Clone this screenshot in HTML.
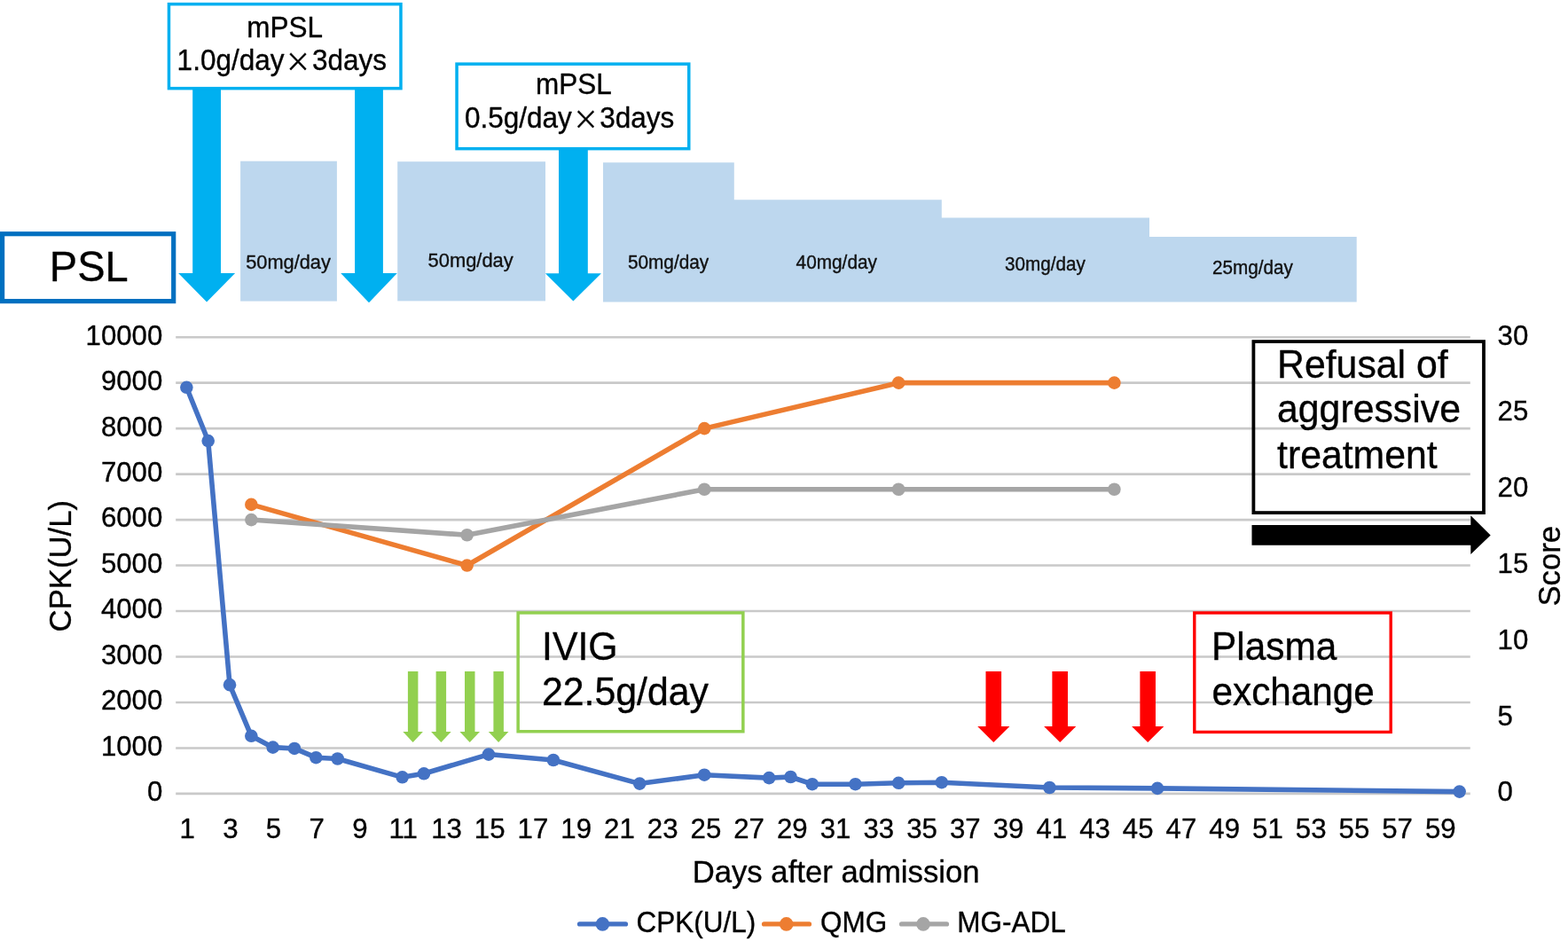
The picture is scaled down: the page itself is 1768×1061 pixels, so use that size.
<!DOCTYPE html>
<html><head><meta charset="utf-8"><title>CPK, QMG and MG-ADL after admission</title>
<style>
html,body{margin:0;padding:0;background:#fff;}
body{width:1768px;height:1061px;overflow:hidden;}
svg{display:block;}
text{font-family:"Liberation Sans", Arial, sans-serif;fill:#000;stroke:#000;stroke-width:0.35px;stroke-linejoin:round;}
</style></head><body>
<svg width="1768" height="1061" viewBox="0 0 1768 1061">
<rect x="0" y="0" width="1768" height="1061" fill="#fff"/>
<g stroke="#C9C9C9" stroke-width="2.6">
<line x1="198.2" y1="380.20" x2="1657.8" y2="380.20"/>
<line x1="198.2" y1="431.67" x2="1657.8" y2="431.67"/>
<line x1="198.2" y1="483.14" x2="1657.8" y2="483.14"/>
<line x1="198.2" y1="534.61" x2="1657.8" y2="534.61"/>
<line x1="198.2" y1="586.08" x2="1657.8" y2="586.08"/>
<line x1="198.2" y1="637.55" x2="1657.8" y2="637.55"/>
<line x1="198.2" y1="689.02" x2="1657.8" y2="689.02"/>
<line x1="198.2" y1="740.49" x2="1657.8" y2="740.49"/>
<line x1="198.2" y1="791.96" x2="1657.8" y2="791.96"/>
<line x1="198.2" y1="843.43" x2="1657.8" y2="843.43"/>
<line x1="198.2" y1="894.90" x2="1657.8" y2="894.90"/>
</g>
<text font-size="31.2" text-anchor="end" transform="matrix(1 0 0 1.035 183.30 903.30)">0</text>
<text font-size="31.2" text-anchor="end" transform="matrix(1 0 0 1.035 183.30 851.83)">1000</text>
<text font-size="31.2" text-anchor="end" transform="matrix(1 0 0 1.035 183.30 800.36)">2000</text>
<text font-size="31.2" text-anchor="end" transform="matrix(1 0 0 1.035 183.30 748.89)">3000</text>
<text font-size="31.2" text-anchor="end" transform="matrix(1 0 0 1.035 183.30 697.42)">4000</text>
<text font-size="31.2" text-anchor="end" transform="matrix(1 0 0 1.035 183.30 645.95)">5000</text>
<text font-size="31.2" text-anchor="end" transform="matrix(1 0 0 1.035 183.30 594.48)">6000</text>
<text font-size="31.2" text-anchor="end" transform="matrix(1 0 0 1.035 183.30 543.01)">7000</text>
<text font-size="31.2" text-anchor="end" transform="matrix(1 0 0 1.035 183.30 491.54)">8000</text>
<text font-size="31.2" text-anchor="end" transform="matrix(1 0 0 1.035 183.30 440.07)">9000</text>
<text font-size="31.2" text-anchor="end" transform="matrix(1 0 0 1.035 183.30 388.60)">10000</text>
<text font-size="31.2" transform="matrix(1 0 0 1.035 1688.60 903.30)">0</text>
<text font-size="31.2" transform="matrix(1 0 0 1.035 1688.60 817.52)">5</text>
<text font-size="31.2" transform="matrix(1 0 0 1.035 1688.60 731.73)">10</text>
<text font-size="31.2" transform="matrix(1 0 0 1.035 1688.60 645.95)">15</text>
<text font-size="31.2" transform="matrix(1 0 0 1.035 1688.60 560.17)">20</text>
<text font-size="31.2" transform="matrix(1 0 0 1.035 1688.60 474.38)">25</text>
<text font-size="31.2" transform="matrix(1 0 0 1.035 1688.60 388.60)">30</text>
<text font-size="31.2" text-anchor="middle" transform="matrix(1 0 0 1.035 211.08 944.60)">1</text>
<text font-size="31.2" text-anchor="middle" transform="matrix(1 0 0 1.035 259.82 944.60)">3</text>
<text font-size="31.2" text-anchor="middle" transform="matrix(1 0 0 1.035 308.55 944.60)">5</text>
<text font-size="31.2" text-anchor="middle" transform="matrix(1 0 0 1.035 357.28 944.60)">7</text>
<text font-size="31.2" text-anchor="middle" transform="matrix(1 0 0 1.035 406.02 944.60)">9</text>
<text font-size="31.2" text-anchor="middle" transform="matrix(1 0 0 1.035 454.75 944.60)">11</text>
<text font-size="31.2" text-anchor="middle" transform="matrix(1 0 0 1.035 503.48 944.60)">13</text>
<text font-size="31.2" text-anchor="middle" transform="matrix(1 0 0 1.035 552.22 944.60)">15</text>
<text font-size="31.2" text-anchor="middle" transform="matrix(1 0 0 1.035 600.95 944.60)">17</text>
<text font-size="31.2" text-anchor="middle" transform="matrix(1 0 0 1.035 649.68 944.60)">19</text>
<text font-size="31.2" text-anchor="middle" transform="matrix(1 0 0 1.035 698.42 944.60)">21</text>
<text font-size="31.2" text-anchor="middle" transform="matrix(1 0 0 1.035 747.15 944.60)">23</text>
<text font-size="31.2" text-anchor="middle" transform="matrix(1 0 0 1.035 795.88 944.60)">25</text>
<text font-size="31.2" text-anchor="middle" transform="matrix(1 0 0 1.035 844.62 944.60)">27</text>
<text font-size="31.2" text-anchor="middle" transform="matrix(1 0 0 1.035 893.35 944.60)">29</text>
<text font-size="31.2" text-anchor="middle" transform="matrix(1 0 0 1.035 942.08 944.60)">31</text>
<text font-size="31.2" text-anchor="middle" transform="matrix(1 0 0 1.035 990.82 944.60)">33</text>
<text font-size="31.2" text-anchor="middle" transform="matrix(1 0 0 1.035 1039.55 944.60)">35</text>
<text font-size="31.2" text-anchor="middle" transform="matrix(1 0 0 1.035 1088.28 944.60)">37</text>
<text font-size="31.2" text-anchor="middle" transform="matrix(1 0 0 1.035 1137.02 944.60)">39</text>
<text font-size="31.2" text-anchor="middle" transform="matrix(1 0 0 1.035 1185.75 944.60)">41</text>
<text font-size="31.2" text-anchor="middle" transform="matrix(1 0 0 1.035 1234.48 944.60)">43</text>
<text font-size="31.2" text-anchor="middle" transform="matrix(1 0 0 1.035 1283.22 944.60)">45</text>
<text font-size="31.2" text-anchor="middle" transform="matrix(1 0 0 1.035 1331.95 944.60)">47</text>
<text font-size="31.2" text-anchor="middle" transform="matrix(1 0 0 1.035 1380.68 944.60)">49</text>
<text font-size="31.2" text-anchor="middle" transform="matrix(1 0 0 1.035 1429.42 944.60)">51</text>
<text font-size="31.2" text-anchor="middle" transform="matrix(1 0 0 1.035 1478.15 944.60)">53</text>
<text font-size="31.2" text-anchor="middle" transform="matrix(1 0 0 1.035 1526.88 944.60)">55</text>
<text font-size="31.2" text-anchor="middle" transform="matrix(1 0 0 1.035 1575.62 944.60)">57</text>
<text font-size="31.2" text-anchor="middle" transform="matrix(1 0 0 1.035 1624.35 944.60)">59</text>
<text font-size="34.7" text-anchor="middle" transform="matrix(1 0 0 1.035 942.60 994.80)">Days after admission</text>
<text font-size="34.7" text-anchor="middle" transform="translate(80.00 638.20) rotate(-90) scale(1 1.035)">CPK(U/L)</text>
<text font-size="34.7" text-anchor="middle" transform="translate(1759.40 638.20) rotate(-90) scale(1 1.035)">Score</text>
<polyline points="210.36,436.82 234.69,497.04 259.02,772.14 283.34,829.79 307.67,842.66 332.00,843.94 356.32,854.19 380.65,855.47 453.63,876.32 477.96,872.30 550.94,850.58 623.92,857.02 721.22,883.58 794.20,873.69 867.18,877.09 891.51,876.01 915.84,884.19 964.49,884.19 1013.14,882.80 1061.80,882.19 1183.43,888.00 1305.06,888.83 1645.64,892.58" fill="none" stroke="#4472C4" stroke-width="5.6" stroke-linejoin="round" stroke-linecap="round"/>
<g fill="#4472C4"><circle cx="210.36" cy="436.82" r="7.3"/><circle cx="234.69" cy="497.04" r="7.3"/><circle cx="259.02" cy="772.14" r="7.3"/><circle cx="283.34" cy="829.79" r="7.3"/><circle cx="307.67" cy="842.66" r="7.3"/><circle cx="332.00" cy="843.94" r="7.3"/><circle cx="356.32" cy="854.19" r="7.3"/><circle cx="380.65" cy="855.47" r="7.3"/><circle cx="453.63" cy="876.32" r="7.3"/><circle cx="477.96" cy="872.30" r="7.3"/><circle cx="550.94" cy="850.58" r="7.3"/><circle cx="623.92" cy="857.02" r="7.3"/><circle cx="721.22" cy="883.58" r="7.3"/><circle cx="794.20" cy="873.69" r="7.3"/><circle cx="867.18" cy="877.09" r="7.3"/><circle cx="891.51" cy="876.01" r="7.3"/><circle cx="915.84" cy="884.19" r="7.3"/><circle cx="964.49" cy="884.19" r="7.3"/><circle cx="1013.14" cy="882.80" r="7.3"/><circle cx="1061.80" cy="882.19" r="7.3"/><circle cx="1183.43" cy="888.00" r="7.3"/><circle cx="1305.06" cy="888.83" r="7.3"/><circle cx="1645.64" cy="892.58" r="7.3"/></g>
<polyline points="283.34,568.92 526.61,637.55 794.20,483.14 1013.14,431.67 1256.41,431.67" fill="none" stroke="#ED7D31" stroke-width="5.6" stroke-linejoin="round" stroke-linecap="round"/>
<g fill="#ED7D31"><circle cx="283.34" cy="568.92" r="7.3"/><circle cx="526.61" cy="637.55" r="7.3"/><circle cx="794.20" cy="483.14" r="7.3"/><circle cx="1013.14" cy="431.67" r="7.3"/><circle cx="1256.41" cy="431.67" r="7.3"/></g>
<polyline points="283.34,586.08 526.61,603.24 794.20,551.77 1013.14,551.77 1256.41,551.77" fill="none" stroke="#A5A5A5" stroke-width="5.6" stroke-linejoin="round" stroke-linecap="round"/>
<g fill="#A5A5A5"><circle cx="283.34" cy="586.08" r="7.3"/><circle cx="526.61" cy="603.24" r="7.3"/><circle cx="794.20" cy="551.77" r="7.3"/><circle cx="1013.14" cy="551.77" r="7.3"/><circle cx="1256.41" cy="551.77" r="7.3"/></g>
<line x1="653.5" y1="1041.9" x2="705.5" y2="1041.9" stroke="#4472C4" stroke-width="5.2" stroke-linecap="round"/>
<circle cx="679.4" cy="1041.9" r="7.8" fill="#4472C4"/>
<text font-size="31.5" transform="matrix(1 0 0 1.035 717.50 1050.50)">CPK(U/L)</text>
<line x1="861.5" y1="1041.9" x2="912.5" y2="1041.9" stroke="#ED7D31" stroke-width="5.2" stroke-linecap="round"/>
<circle cx="886.7" cy="1041.9" r="7.8" fill="#ED7D31"/>
<text font-size="31.5" transform="matrix(1 0 0 1.035 925.00 1050.50)">QMG</text>
<line x1="1016.5" y1="1041.9" x2="1067.5" y2="1041.9" stroke="#A5A5A5" stroke-width="5.2" stroke-linecap="round"/>
<circle cx="1041" cy="1041.9" r="7.8" fill="#A5A5A5"/>
<text font-size="31.5" transform="matrix(1 0 0 1.035 1079.30 1050.50)">MG-ADL</text>
<g fill="#BDD7EE">
<rect x="271.1" y="181.7" width="108.8" height="157.9"/>
<rect x="448.2" y="182.2" width="166.8" height="157.2"/>
<polygon points="680,183.3 827.8,183.3 827.8,225.3 1061.8,225.3 1061.8,245.5 1296,245.5 1296,267.1 1529.7,267.1 1529.7,340.6 680,340.6"/>
</g>
<text font-size="21.8" transform="matrix(1 0 0 1.035 277.20 302.90)" style="fill:#111;stroke:#111">50mg/day</text>
<text font-size="21.9" transform="matrix(1 0 0 1.035 482.60 300.60)" style="fill:#111;stroke:#111">50mg/day</text>
<text font-size="20.8" transform="matrix(1 0 0 1.035 707.90 302.90)" style="fill:#111;stroke:#111">50mg/day</text>
<text font-size="20.8" transform="matrix(1 0 0 1.035 897.60 302.90)" style="fill:#111;stroke:#111">40mg/day</text>
<text font-size="20.7" transform="matrix(1 0 0 1.035 1132.90 304.70)" style="fill:#111;stroke:#111">30mg/day</text>
<text font-size="20.7" transform="matrix(1 0 0 1.035 1366.90 308.70)" style="fill:#111;stroke:#111">25mg/day</text>
<polygon points="217.2,100.0 249.0,100.0 249.0,307.9 265.1,307.9 233.1,340.4 201.1,307.9 217.2,307.9" fill="#00B0F0"/>
<polygon points="400.1,100.0 431.9,100.0 431.9,308.0 447.8,308.0 416.0,341.2 384.2,308.0 400.1,308.0" fill="#00B0F0"/>
<polygon points="630.0,168.0 662.8,168.0 662.8,308.3 677.9,308.3 646.4,339.4 614.9,308.3 630.0,308.3" fill="#00B0F0"/>
<rect x="190.45" y="4.65" width="261.50" height="95.00" fill="#fff" stroke="#00B0F0" stroke-width="3.5"/>
<text font-size="31.5" text-anchor="middle" transform="matrix(1 0 0 1.035 321.20 41.90)">mPSL</text>
<text font-size="31.5" text-anchor="middle" transform="matrix(1 0 0 1.035 317.80 78.70)">1.0g/day<tspan style="font-family:'Noto Sans CJK JP', sans-serif;font-size:29px" dx="1.2" dy="1.1">×</tspan><tspan dx="1.3" dy="-1.1">3days</tspan></text>
<rect x="515.05" y="72.15" width="261.70" height="95.50" fill="#fff" stroke="#00B0F0" stroke-width="3.5"/>
<text font-size="31.5" text-anchor="middle" transform="matrix(1 0 0 1.035 646.80 106.30)">mPSL</text>
<text font-size="31.5" text-anchor="middle" transform="matrix(1 0 0 1.035 642.20 144.10)">0.5g/day<tspan style="font-family:'Noto Sans CJK JP', sans-serif;font-size:29px" dx="1.2" dy="1.1">×</tspan><tspan dx="1.3" dy="-1.1">3days</tspan></text>
<rect x="2.60" y="263.70" width="193.10" height="75.90" fill="#fff" stroke="#0070C0" stroke-width="5.2"/>
<text font-size="47" text-anchor="middle" transform="matrix(1 0 0 1.035 100.20 316.60)">PSL</text>
<rect x="584.15" y="690.95" width="253.70" height="133.80" fill="none" stroke="#92D050" stroke-width="3.5"/>
<text font-size="42.8" transform="matrix(1 0 0 1.035 611.00 744.10)">IVIG</text>
<text font-size="42.8" transform="matrix(1 0 0 1.035 611.00 794.80)">22.5g/day</text>
<polygon points="459.9,757.0 471.4,757.0 471.4,825.0 476.9,825.0 465.6,837.0 454.3,825.0 459.9,825.0" fill="#92D050"/>
<polygon points="491.6,757.0 503.1,757.0 503.1,825.0 508.7,825.0 497.4,837.0 486.1,825.0 491.6,825.0" fill="#92D050"/>
<polygon points="524.0,757.0 535.5,757.0 535.5,825.0 541.0,825.0 529.7,837.0 518.4,825.0 524.0,825.0" fill="#92D050"/>
<polygon points="556.4,757.0 567.9,757.0 567.9,825.0 573.4,825.0 562.1,837.0 550.8,825.0 556.4,825.0" fill="#92D050"/>
<rect x="1346.80" y="691.00" width="221.40" height="134.40" fill="none" stroke="#FF0000" stroke-width="3.4"/>
<text font-size="42.4" transform="matrix(1 0 0 1.035 1366.00 743.60)">Plasma</text>
<text font-size="42.3" transform="matrix(1 0 0 1.035 1366.50 794.50)">exchange</text>
<polygon points="1111.5,756.9 1129.1,756.9 1129.1,819.1 1138.4,819.1 1120.3,837.0 1102.2,819.1 1111.5,819.1" fill="#FF0000"/>
<polygon points="1186.4,756.9 1204.0,756.9 1204.0,819.1 1213.3,819.1 1195.2,837.0 1177.1,819.1 1186.4,819.1" fill="#FF0000"/>
<polygon points="1285.4,756.9 1303.0,756.9 1303.0,819.1 1312.3,819.1 1294.2,837.0 1276.1,819.1 1285.4,819.1" fill="#FF0000"/>
<rect x="1413.40" y="385.10" width="259.60" height="193.00" fill="none" stroke="#000" stroke-width="3.8"/>
<text font-size="42.8" transform="matrix(1 0 0 1.035 1440.00 425.50)">Refusal of</text>
<text font-size="42.8" transform="matrix(1 0 0 1.035 1440.00 476.40)">aggressive</text>
<text font-size="42.8" transform="matrix(1 0 0 1.035 1440.00 528.30)">treatment</text>
<polygon points="1411.5,591.9 1658.3,591.9 1658.3,581.3 1680.7,603.4 1658.3,625 1658.3,614.8 1411.5,614.8" fill="#000"/>
</svg>
</body></html>
